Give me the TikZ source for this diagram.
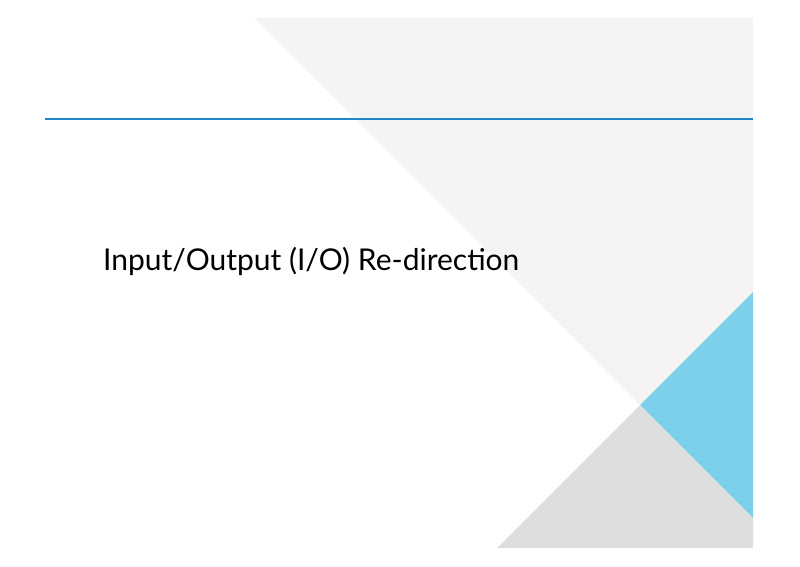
\documentclass[tikz,border=0pt]{standalone}
\usepackage{fontspec}
\setmainfont{Lato}
\definecolor{lg}{RGB}{244,244,244}
\definecolor{bl}{RGB}{125,208,234}
\definecolor{dg}{RGB}{222,222,222}
\definecolor{ln}{RGB}{31,134,200}
\begin{document}
\begin{tikzpicture}[x=1pt,y=-1pt]
\useasboundingbox (0,0) rectangle (800,566);
\fill[white] (0,0) rectangle (800,566);
\fill[lg] (255,18) -- (753,18) -- (753,292) -- (640,405) -- cycle;
\fill[bl] (640,405) -- (753,292) -- (753,518) -- cycle;
\fill[dg] (497,548) -- (640,405) -- (753,518) -- (753,548) -- cycle;
\draw[line width=2.5pt,ln] (45,119) -- (753,119);
\node[anchor=base west,inner sep=0,font=\fontsize{30}{36}\selectfont] (t) at (103,270) {Input/Output (I/O) Re-direction};
\end{tikzpicture}
\end{document}
